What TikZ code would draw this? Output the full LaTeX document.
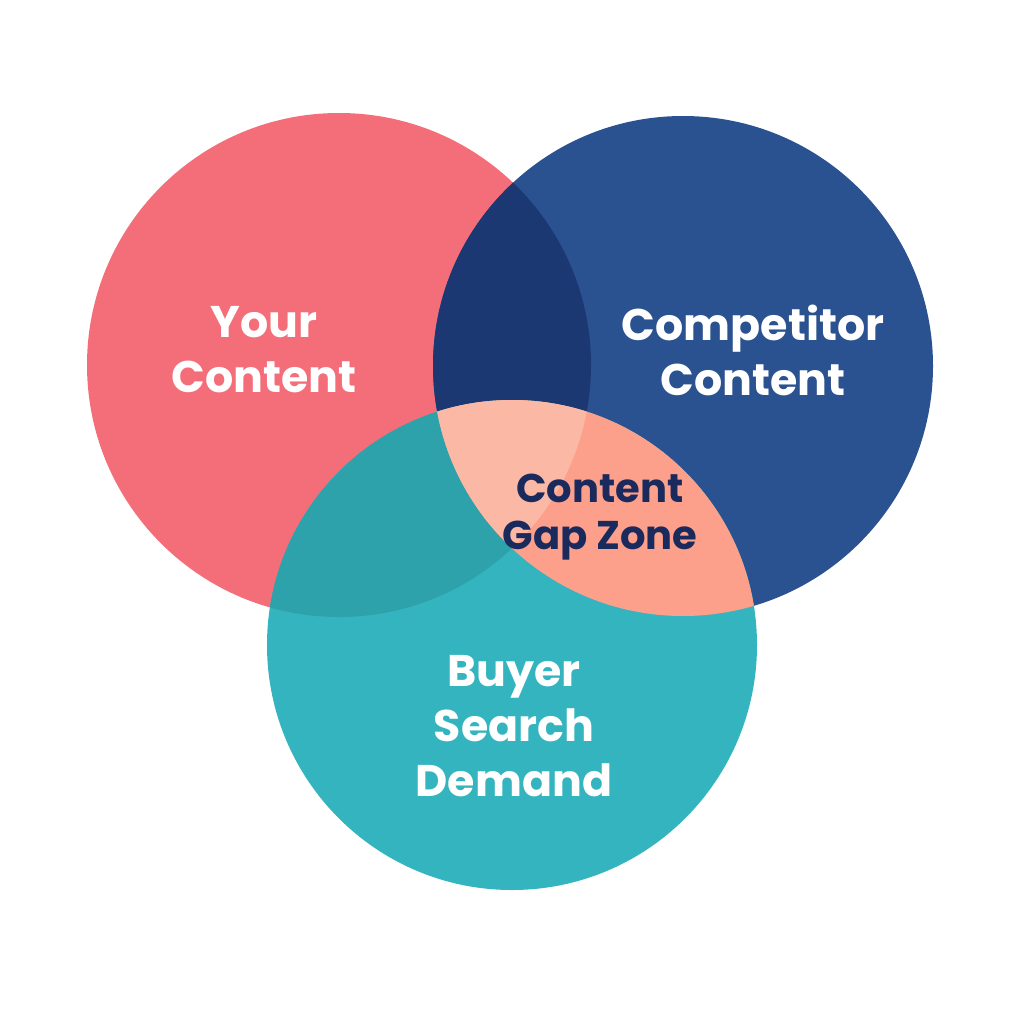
\documentclass[tikz,border=0pt]{standalone}
\usepackage{fontspec}
\setmainfont{Poppins}
\definecolor{cred}{HTML}{F46E7A}
\definecolor{cblue}{HTML}{2A5190}
\definecolor{cteal}{HTML}{34B4BE}
\definecolor{crb}{HTML}{1C3872}
\definecolor{crt}{HTML}{2EA2AA}
\definecolor{cbt}{HTML}{FCA08C}
\definecolor{crbt}{HTML}{FBB8A5}
\definecolor{cnavy}{HTML}{1B2A5C}
\tikzset{
  lbl/.style={font=\fontsize{12.6pt}{15.6pt}\selectfont\bfseries, align=center, text=white},
  gap/.style={lbl, text=cnavy, font=\fontsize{11.4pt}{13.4pt}\selectfont\bfseries}
}
\begin{document}
\begin{tikzpicture}[x=0.01cm,y=-0.01cm]
\useasboundingbox (0,0) rectangle (1024,1024);
\def\R{(339,365) circle (252)}
\def\B{(683,366) circle (250)}
\def\T{(512,645) circle (245)}
\fill[cred] \R;
\fill[cblue] \B;
\fill[cteal] \T;
\begin{scope}\clip \R; \fill[crb] \B; \end{scope}
\begin{scope}\clip \R; \fill[crt] \T; \end{scope}
\begin{scope}\clip \B; \fill[cbt] \T; \end{scope}
\begin{scope}\clip \R; \clip \B; \fill[crbt] \T; \end{scope}
\node[lbl] (your) at (264,350) {Your\\Content};
\node[lbl] (comp) at (753,350) {Competitor\\Content};
\node[gap] (gapz) at (600,517) {Content\\Gap Zone};
\node[lbl] (buyer) at (514,726) {Buyer\\Search\\Demand};
\end{tikzpicture}
\end{document}
